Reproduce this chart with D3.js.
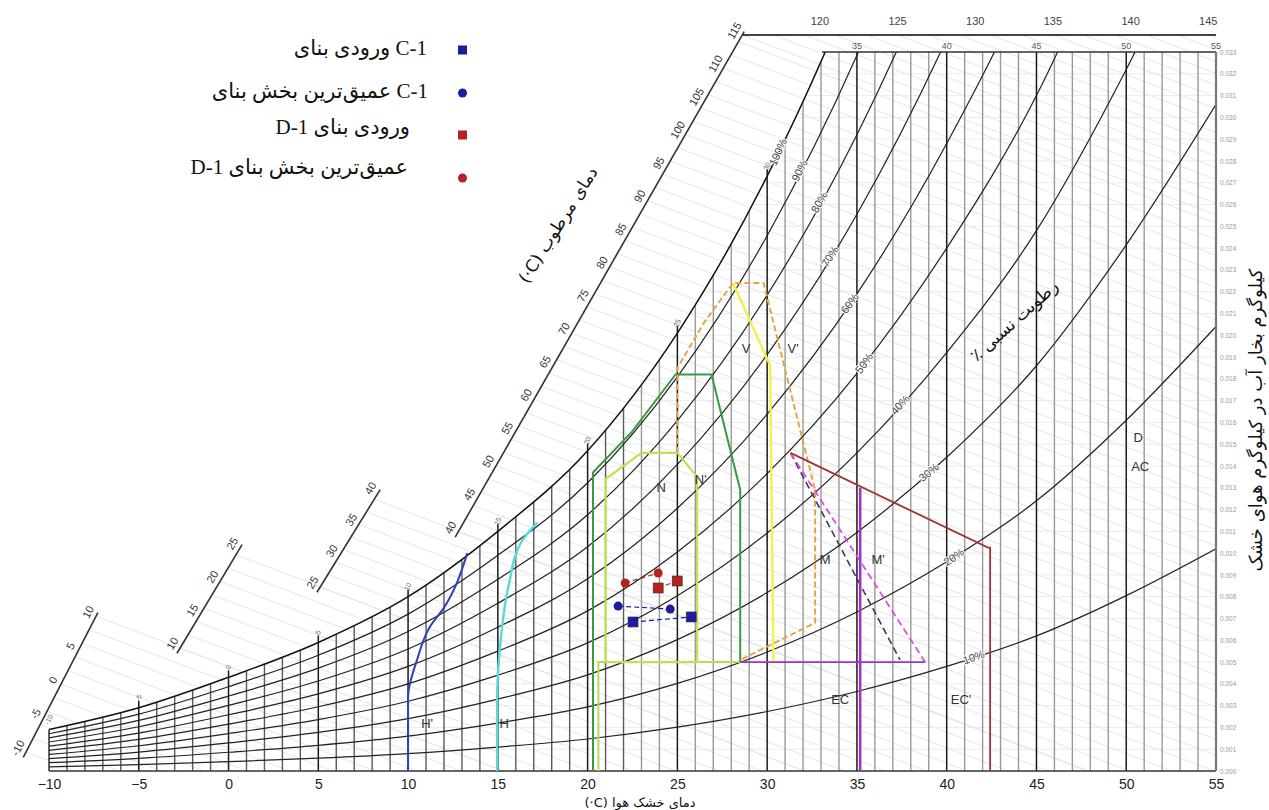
<!DOCTYPE html>
<html>
<head>
<meta charset="utf-8">
<script src="https://cdnjs.cloudflare.com/ajax/libs/d3/7.8.5/d3.min.js"></script>
<style>
  body { margin: 0; background: #fff; }
  svg { display: block; }
</style>
</head>
<body>
<svg id="chart" width="1269" height="810"></svg>
<script>
// saturation curve: dry bulb (°C) -> humidity ratio (g/kg)
const satT = [-10, -5, 0, 5, 10, 15, 20, 25, 30, 35, 40, 45, 50, 55]
const satW = [1.9, 2.9, 4.3, 5.9, 8.0, 11.0, 14.7, 20.1, 27.3, 36.5, 48.0, 62.0, 80.5, 102]
const rhLevels = [90, 80, 70, 60, 50, 40, 30, 20, 10]
const rhLabels = [[100, 30.6], [90, 31.8], [80, 32.9], [70, 33.5], [60, 34.6], [50, 35.4], [40, 37.4], [30, 39.0], [20, 40.4], [10, 41.5]]
const xTicks = [-10, -5, 0, 5, 10, 15, 20, 25, 30, 35, 40, 45, 50, 55]
const wTicks = d3.range(0, 34)

// wet bulb scales: [first value, last value, [T, W] at first, [T, W] at last]
const wbScales = [
  [-10, 10, [-11.28, 0.87], [-7.38, 7.11]],
  [10, 25, [-2.70, 5.64], [0.64, 10.23]],
  [25, 40, [5.10, 8.44], [8.33, 12.76]],
  [40, 115, [12.79, 10.97], [28.61, 33.78]]
]
const topScale = [115, 145, [28.61, 33.78], [54.57, 33.78]]

// bioclimatic zones as [T, W g/kg]
const zoneHp = [[10, 0], [10, 3.4], [10.5, 5.1], [11.2, 6.6], [12.0, 7.5], [13.3, 10.0]]
const zoneH = [[14.96, 0], [14.96, 3.3], [15.1, 5.5], [15.6, 8.5], [16.3, 10.5], [17.2, 11.4]]
const zoneNp = [[20.3, 0], [20.3, 13.7], [22.5, 15.6], [24.9, 18.2], [26.9, 18.2], [28.5, 12.9], [28.5, 5.0]]
const zoneN = [[21, 5.0], [21, 13.4], [23, 14.6], [25, 14.6], [26.1, 13.5], [26.1, 5.0], [21, 5.0]]
const zoneNbase = [[20.6, 0], [20.6, 5.0], [28.5, 5.0]]
const zoneVp = [[25.0, 14.6], [25.0, 18.5], [26.5, 20.6], [28.1, 22.4], [29.8, 22.4], [32.67, 12.9], [32.67, 6.8], [28.5, 5.1]]
const zoneV = [[28.1, 22.4], [30.17, 18.6], [30.35, 5.0]]
const zoneM = [[31.3, 14.6], [37.4, 5.1]]
const zoneMp = [[31.3, 14.6], [38.8, 5.0]]
const zoneEC = [[28.5, 5.0], [38.8, 5.0]]
const zoneECv = [[35.18, 13.0], [35.18, 0]]
const zoneECp = [[31.3, 14.6], [42.3, 10.25], [42.42, 10.25], [42.42, 0]]

const zoneLabels = [["H'", 11.06, 2.2], ['H', 15.35, 2.2], ['N', 24.1, 13.0], ["N'", 26.3, 13.4],
  ['V', 28.83, 19.4], ["V'", 31.45, 19.4], ['M', 33.23, 9.7], ["M'", 36.18, 9.7],
  ['EC', 34.07, 3.3], ["EC'", 40.8, 3.3], ['D', 50.67, 15.3], ['AC', 50.78, 14.0]]

// measured points
const c1Entry = [[22.53, 6.84], [25.77, 7.07]]
const c1Deep = [[21.7, 7.57], [24.6, 7.43]]
const d1Entry = [[23.93, 8.4], [24.99, 8.72]]
const d1Deep = [[22.09, 8.63], [23.93, 9.09]]

const legendNames = ['ورودی بنای', 'عمیق‌ترین بخش بنای', 'ورودی بنای', 'عمیق‌ترین بخش بنای']
const legendCodes = ['C-1', 'C-1', 'D-1', 'D-1']

const svg = d3.select('#chart')
const x = d3.scaleLinear().domain([-10, 55]).range([49, 1216])
const y = d3.scaleLinear().domain([0, 33]).range([771, 52])
const satScale = d3.scaleLinear().domain(satT).range(satW)
const satPts = satT.map((t, i) => [t, satW[i]])

const defs = svg.append('defs')
defs.append('clipPath').attr('id', 'plot').append('rect')
  .attr('x', x(-10)).attr('y', y(33)).attr('width', x(55) - x(-10)).attr('height', y(0) - y(33))
defs.append('clipPath').attr('id', 'undersat').append('path')
  .attr('d', d3.area().x(d => x(d[0])).y0(y(0)).y1(d => y(d[1])).curve(d3.curveMonotoneX)(satPts))

const line = d3.line().x(d => x(d[0])).y(d => y(d[1]))
const sans = 'Liberation Sans, Arial, sans-serif'

// faint wet bulb lines from the scale ticks
const faint = svg.append('g').attr('stroke', '#e6e6e6').attr('stroke-width', 1)
;[...wbScales, topScale].forEach(([v0, v1, a, b]) => {
  const ax = x(a[0]), ay = y(a[1]), bx = x(b[0]), by = y(b[1])
  for (let v = v0; v <= v1; v += 2) {
    const f = (v - v0) / (v1 - v0)
    const px = ax + f * (bx - ax), py = ay + f * (by - ay)
    const len = Math.min(x(55) - px, (y(0) - py) / 0.38)
    if (len <= 0) continue
    faint.append('line').attr('x1', px).attr('y1', py).attr('x2', px + len).attr('y2', py + len * 0.38)
  }
})

// grid under the saturation curve
const grid = svg.append('g').attr('clip-path', 'url(#plot)').append('g').attr('clip-path', 'url(#undersat)')
grid.selectAll('line.h').data(wTicks.slice(1)).join('line')
  .attr('x1', x(-10)).attr('x2', x(55)).attr('y1', d => y(d)).attr('y2', d => y(d))
  .attr('stroke', '#ececec').attr('stroke-width', 1)
grid.selectAll('line.v').data(d3.range(-9, 55).filter(t => t % 5 !== 0)).join('line')
  .attr('x1', d => x(d)).attr('x2', d => x(d)).attr('y1', y(0)).attr('y2', y(33))
  .attr('stroke', d => d > 22 ? '#9a9a9a' : '#5a5a5a').attr('stroke-width', 1.4)

// relative humidity curves
const rh = svg.append('g').attr('clip-path', 'url(#plot)').attr('fill', 'none')
rh.selectAll('path').data(rhLevels).join('path')
  .attr('d', r => line.curve(d3.curveMonotoneX)(satPts.map(p => [p[0], p[1] * r / 100])))
  .attr('stroke', '#222').attr('stroke-width', 1.2)
rh.append('path').attr('d', line.curve(d3.curveMonotoneX)(satPts))
  .attr('stroke', '#111').attr('stroke-width', 1.5)
line.curve(d3.curveLinear)

// major dry bulb lines
svg.append('g').selectAll('line').data(xTicks.slice(1)).join('line')
  .attr('x1', d => x(d)).attr('x2', d => x(d)).attr('y1', y(0))
  .attr('y2', d => Math.max(y(33), y(satScale(d)) - 7))
  .attr('stroke', '#1a1a1a').attr('stroke-width', 1.5)

// frame
svg.append('line').attr('x1', x(-10)).attr('x2', x(-10)).attr('y1', y(0)).attr('y2', y(satW[0]))
  .attr('stroke', '#222').attr('stroke-width', 1.4)
svg.append('line').attr('x1', x(-10)).attr('x2', x(55)).attr('y1', y(0)).attr('y2', y(0))
  .attr('stroke', '#333').attr('stroke-width', 1.6)
svg.append('line').attr('x1', x(33.06)).attr('x2', x(55)).attr('y1', y(33)).attr('y2', y(33))
  .attr('stroke', '#333').attr('stroke-width', 1.6)
svg.append('line').attr('x1', x(55)).attr('x2', x(55)).attr('y1', y(33)).attr('y2', y(0))
  .attr('stroke', '#777').attr('stroke-width', 2.2)

// small dry bulb labels on the saturation curve and along the top
svg.append('g').selectAll('text').data(xTicks.filter(t => t <= 30)).join('text')
  .attr('transform', d => `translate(${x(d) + 2},${y(satScale(d)) - 9}) rotate(-65)`)
  .attr('font-family', sans).attr('font-size', 7).attr('fill', '#666')
  .attr('text-anchor', 'middle').text(d => d)
svg.append('g').selectAll('text').data(xTicks.filter(t => t >= 35)).join('text')
  .attr('x', d => x(d)).attr('y', y(33) - 3)
  .attr('font-family', sans).attr('font-size', 9).attr('fill', '#555')
  .attr('text-anchor', 'middle').text(d => d)

// wet bulb scales
wbScales.forEach(([v0, v1, a, b]) => {
  const ax = x(a[0]), ay = y(a[1]), bx = x(b[0]), by = y(b[1])
  const dx = bx - ax, dy = by - ay, L = Math.hypot(dx, dy)
  const ang = Math.atan2(dy, dx) * 180 / Math.PI
  svg.append('line').attr('x1', ax - dx / L * 6).attr('y1', ay - dy / L * 6)
    .attr('x2', bx + dx / L * 4).attr('y2', by + dy / L * 4)
    .attr('stroke', '#333').attr('stroke-width', 1.6)
  const nx = dy / L, ny = -dx / L
  svg.append('g').selectAll('text').data(d3.range(v0, v1 + 1, 5)).join('text')
    .attr('transform', v => {
      const f = (v - v0) / (v1 - v0)
      return `translate(${ax + f * dx + nx * 9},${ay + f * dy + ny * 9}) rotate(${ang})`
    })
    .attr('font-family', sans).attr('font-size', 11).attr('fill', '#333')
    .attr('text-anchor', 'middle').attr('dy', '0.35em').text(v => v)
})
{
  const [v0, v1, a, b] = topScale
  svg.append('line').attr('x1', x(a[0])).attr('x2', x(55)).attr('y1', y(a[1])).attr('y2', y(b[1]))
    .attr('stroke', '#444').attr('stroke-width', 1.8)
  svg.append('g').selectAll('text').data(d3.range(120, v1 + 1, 5)).join('text')
    .attr('x', v => x(a[0]) + (v - v0) / (v1 - v0) * (x(b[0]) - x(a[0])))
    .attr('y', y(a[1]) - 10)
    .attr('font-family', sans).attr('font-size', 11).attr('fill', '#444')
    .attr('text-anchor', 'middle').text(v => v)
}

// axes
svg.append('g').attr('transform', `translate(0,${y(0)})`)
  .call(d3.axisBottom(x).tickValues(xTicks).tickSize(0).tickPadding(8))
  .call(g => g.select('.domain').remove())
  .call(g => g.selectAll('text').attr('font-family', sans).attr('font-size', 14).attr('fill', '#222'))
svg.append('g').attr('transform', `translate(${x(55) + 1},0)`)
  .call(d3.axisRight(y).tickValues(wTicks).tickSize(0).tickPadding(3).tickFormat(d => d3.format('.3f')(d / 1000)))
  .call(g => g.select('.domain').remove())
  .call(g => g.selectAll('text').attr('font-family', sans).attr('font-size', 6.5).attr('fill', '#999'))

// zones
const zones = [
  [zoneHp, '#3040b8', 2, null, d3.curveMonotoneY],
  [zoneH, '#5ad8dc', 2.4, null, d3.curveMonotoneY],
  [zoneNbase, '#b8dc50', 2, null, d3.curveLinear],
  [zoneNp, '#3a9a44', 2, null, d3.curveLinear],
  [zoneN, '#c4e050', 2.2, null, d3.curveLinear],
  [zoneV, '#f2f04a', 2.4, null, d3.curveLinear],
  [zoneVp, '#e6a448', 2, '6,3', d3.curveLinear],
  [zoneM, '#3a3a60', 1.6, '7,4', d3.curveLinear],
  [zoneMp, '#e04ce0', 1.8, '7,4', d3.curveLinear],
  [zoneEC, '#9a36c8', 1.8, null, d3.curveLinear],
  [zoneECv, '#9a36c8', 2.6, null, d3.curveLinear],
  [zoneECp, '#a03434', 1.8, null, d3.curveLinear]
]
svg.append('g').attr('fill', 'none').selectAll('path').data(zones).join('path')
  .attr('d', z => d3.line().x(d => x(d[0])).y(d => y(d[1])).curve(z[4])(z[0]))
  .attr('stroke', z => z[1]).attr('stroke-width', z => z[2])
  .attr('stroke-dasharray', z => z[3])

svg.append('g').selectAll('text').data(zoneLabels).join('text')
  .attr('x', d => x(d[1])).attr('y', d => y(d[2]))
  .attr('font-family', sans).attr('font-size', 13).attr('fill', '#333')
  .attr('text-anchor', 'middle').attr('dy', '0.35em').text(d => d[0])

// RH labels along the curves
svg.append('g').selectAll('text').data(rhLabels).join('text')
  .attr('transform', ([r, t]) => {
    const px = x(t), py = y(satScale(t) * r / 100)
    const a = Math.atan2(y(satScale(t + 0.3) * r / 100) - py, x(t + 0.3) - px) * 180 / Math.PI
    return `translate(${px},${py}) rotate(${a})`
  })
  .attr('font-family', sans).attr('font-size', 11).attr('fill', '#444')
  .attr('stroke', '#fff').attr('stroke-width', 2).attr('paint-order', 'stroke')
  .attr('text-anchor', 'middle').attr('dy', '0.35em').text(d => d[0] + '%')

// measured points
const blue = '#1c1ca0', red = '#b42222'
const pts = svg.append('g')
;[[c1Entry, blue], [c1Deep, blue], [d1Entry, red], [d1Deep, red]].forEach(([p, c]) => {
  pts.append('path').attr('d', line(p)).attr('fill', 'none').attr('stroke', c)
    .attr('stroke-width', 1.2).attr('stroke-dasharray', '5,3')
})
pts.selectAll('rect.c').data([...c1Entry.map(d => [d, blue]), ...d1Entry.map(d => [d, red])]).join('rect')
  .attr('x', d => x(d[0][0]) - 5).attr('y', d => y(d[0][1]) - 5).attr('width', 10).attr('height', 10)
  .attr('fill', d => d[1]).attr('stroke', '#333').attr('stroke-width', 0.6)
pts.selectAll('circle').data([...c1Deep.map(d => [d, blue]), ...d1Deep.map(d => [d, red])]).join('circle')
  .attr('cx', d => x(d[0][0])).attr('cy', d => y(d[0][1])).attr('r', 4.5)
  .attr('fill', d => d[1])

// legend
const legY = [50, 93, 135, 178]
const legTextY = [55, 98, 134, 174]
const legTextX = [427, 428, 410, 408]
const legend = svg.append('g')
legendNames.forEach((n, i) => {
  const c = i < 2 ? blue : red
  if (i % 2 === 0) legend.append('rect').attr('x', 458).attr('y', legY[i] - 4.5).attr('width', 9).attr('height', 9).attr('fill', c)
  else legend.append('circle').attr('cx', 462.5).attr('cy', legY[i]).attr('r', 4.5).attr('fill', c)
  legend.append('text').attr('x', legTextX[i]).attr('y', legTextY[i])
    .attr('font-family', 'Liberation Serif, Times New Roman, DejaVu Sans, serif').attr('font-size', 21)
    .attr('fill', '#111').attr('text-anchor', 'end').attr('direction', 'ltr')
    .text(i < 2 ? n + ' ' + legendCodes[i] : legendCodes[i] + ' ' + n)
})

// titles
svg.append('text').attr('x', 640).attr('y', 807).attr('text-anchor', 'middle')
  .attr('font-family', 'DejaVu Sans, sans-serif').attr('font-size', 13).attr('direction', 'ltr')
  .attr('fill', '#111').text('(·C) دمای خشک هوا')
svg.append('text').attr('transform', 'translate(563,228) rotate(-58)').attr('text-anchor', 'middle')
  .attr('font-family', 'DejaVu Sans, sans-serif').attr('font-size', 17).attr('direction', 'ltr')
  .attr('fill', '#111').text('(·C) دمای مرطوب')
svg.append('text').attr('transform', 'translate(1018,325) rotate(-42)').attr('text-anchor', 'middle')
  .attr('font-family', 'DejaVu Sans, sans-serif').attr('font-size', 17).attr('direction', 'rtl')
  .attr('fill', '#111').text('رطوبت نسبی ٪')
svg.append('text').attr('transform', 'translate(1256,420) rotate(-90)').attr('text-anchor', 'middle')
  .attr('font-family', 'DejaVu Sans, sans-serif').attr('font-size', 18).attr('direction', 'rtl')
  .attr('dy', '0.35em').attr('fill', '#111').text('کیلوگرم بخار آب در کیلوگرم هوای خشک')
</script>
</body>
</html>
